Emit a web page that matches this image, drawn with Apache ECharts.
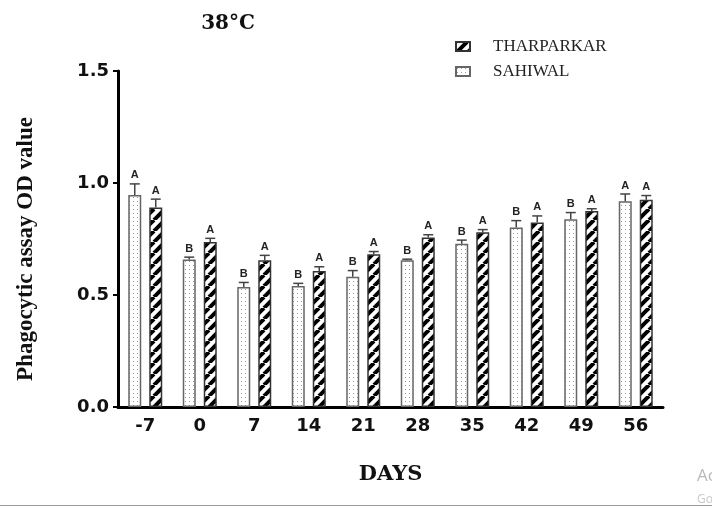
<!DOCTYPE html>
<html><head><meta charset="utf-8">
<script src="https://cdn.jsdelivr.net/npm/echarts@6/dist/echarts.min.js"></script>
<style>html,body{margin:0;padding:0;background:#fff}#c{width:712px;height:508px}</style>
</head><body><div id="c"></div>
<script>
const days = ['-7','0','7','14','21','28','35','42','49','56'];
const sahiwal = [0.946,0.659,0.536,0.540,0.582,0.655,0.729,0.801,0.838,0.918];
const sahiwalErr = [0.050,0.010,0.020,0.012,0.027,0.005,0.016,0.031,0.030,0.033];
const sahiwalLetters = ['A','B','B','B','B','B','B','B','B','A'];
const tharparkar = [0.891,0.737,0.655,0.607,0.682,0.757,0.780,0.824,0.875,0.925];
const tharparkarErr = [0.037,0.016,0.022,0.019,0.012,0.012,0.012,0.029,0.010,0.019];
const tharparkarLetters = ['A','A','A','A','A','A','A','A','A','A'];
const yTicks = [0, 0.5, 1.0, 1.5];

function hatchPattern(){
  const s=11, c=document.createElement('canvas'); c.width=s; c.height=s;
  const g=c.getContext('2d'); g.fillStyle='#fff'; g.fillRect(0,0,s,s);
  g.strokeStyle='#000'; g.lineWidth=4;
  for(const k of [-s,0,s]){ g.beginPath(); g.moveTo(k,s); g.lineTo(k+s,0); g.stroke(); }
  return c;
}
function dotPattern(){
  const s=4, c=document.createElement('canvas'); c.width=s; c.height=s;
  const g=c.getContext('2d'); g.fillStyle='#fff'; g.fillRect(0,0,s,s);
  g.fillStyle='#999'; g.fillRect(1,1,1,1);
  return c;
}
const hatch = {image: hatchPattern(), repeat:'repeat'};
const dots = {image: dotPattern(), repeat:'repeat'};

const BAR_W = 13, GAP = 8, OFF = (BAR_W+GAP)/2;
function errSeries(vals, errs, letters, off){
  return {
    type:'custom', z:5, silent:true,
    data: vals.map((v,i)=>[i,v,errs[i]]),
    encode:{x:0,y:1},
    renderItem:function(params, api){
      const i=api.value(0), v=api.value(1), e=api.value(2);
      const b=api.coord([i,v]), t=api.coord([i,v+e]);
      const x=b[0]+off;
      return {type:'group', children:[
        {type:'line', shape:{x1:x,y1:b[1],x2:x,y2:t[1]}, style:{stroke:'#444',lineWidth:1.5}},
        {type:'line', shape:{x1:x-5,y1:t[1],x2:x+5,y2:t[1]}, style:{stroke:'#444',lineWidth:1.5}},
        {type:'text', style:{text:letters[i], x:x, y:t[1]-3, align:'center', verticalAlign:'bottom',
          font:'bold 11px "Liberation Sans", Arial', fill:'#222'}}
      ]};
    }
  };
}

const chart = echarts.init(document.getElementById('c'), null, {renderer:'canvas'});
chart.setOption({
  animation:false,
  backgroundColor:'#fff',
  title:{text:'38°C', left:223, top:9, textAlign:'center',
    textStyle:{fontFamily:'"DejaVu Serif"', fontWeight:'bold', fontSize:20, color:'#111'}},
  legend:{data:['THARPARKAR','SAHIWAL'], orient:'vertical', left:455, top:38, padding:0, icon:'rect',
    itemWidth:14, itemHeight:9, itemGap:8,
    textStyle:{fontFamily:'"Liberation Serif"', fontSize:17, color:'#222', padding:[0,0,0,18]}},
  grid:{left:118, right:49, top:71, bottom:101},
  xAxis:{type:'category', data:days,
    name:'DAYS', nameLocation:'middle', nameGap:57,
    nameTextStyle:{fontFamily:'"DejaVu Serif"', fontWeight:'bold', fontSize:21, color:'#111'},
    axisLine:{lineStyle:{color:'#000', width:3}},
    axisTick:{alignWithLabel:true, length:5, lineStyle:{color:'#000', width:3}},
    axisLabel:{fontFamily:'"DejaVu Sans"', fontWeight:'bold', fontSize:18, color:'#111', margin:10}},
  yAxis:{type:'value', min:0, max:1.5, interval:0.5,
    splitLine:{show:false},
    axisLine:{show:true, lineStyle:{color:'#000', width:3}},
    axisTick:{show:true, length:5, lineStyle:{color:'#000', width:2}},
    axisLabel:{fontFamily:'"DejaVu Sans"', fontWeight:'bold', fontSize:18, color:'#111', margin:9,
      formatter:v=>yTicks.includes(v)?v.toFixed(1):''}},
  series:[
    {name:'SAHIWAL', type:'bar', data:sahiwal, barWidth:BAR_W, barGap:(GAP/BAR_W*100)+'%',
      itemStyle:{color:dots, borderColor:'#666', borderWidth:1.5}},
    {name:'THARPARKAR', type:'bar', data:tharparkar, barWidth:BAR_W,
      itemStyle:{color:hatch, borderColor:'#333', borderWidth:1.5}},
    errSeries(sahiwal, sahiwalErr, sahiwalLetters, -OFF),
    errSeries(tharparkar, tharparkarErr, tharparkarLetters, OFF)
  ],
  graphic:[
    {type:'text', x:26, y:249, rotation:Math.PI/2, style:{text:'Phagocytic assay OD value', align:'center', verticalAlign:'middle',
      font:'bold 23px "Liberation Serif"', fill:'#111'}},
    {type:'text', left:697, top:468, style:{text:'Ac', font:'17px "Open Sans"', fill:'#b8b8b8'}},
    {type:'text', left:697, top:494, style:{text:'Go', font:'12px "Open Sans"', fill:'#c8c8c8'}},
    {type:'rect', shape:{x:0,y:505,width:712,height:1}, style:{fill:'#9a9aa0'}}
  ]
});
</script></body></html>
